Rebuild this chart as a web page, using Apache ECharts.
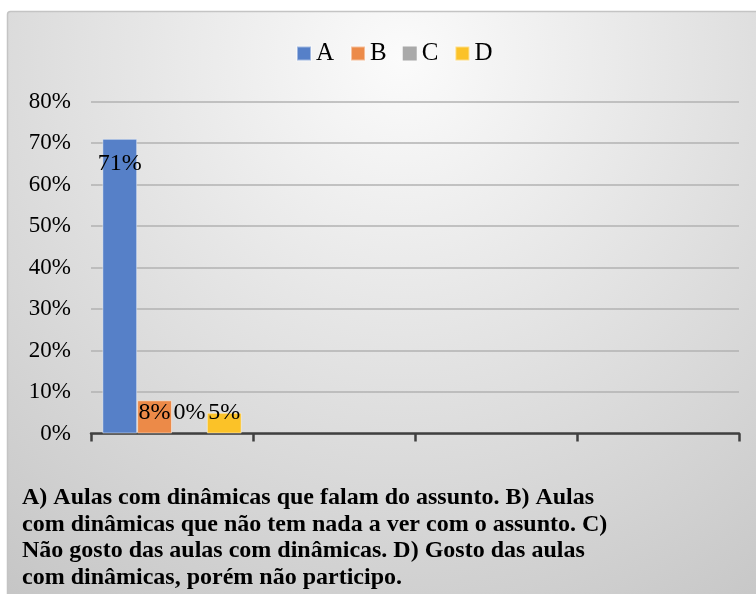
<!DOCTYPE html>
<html>
<head>
<meta charset="utf-8">
<script src="https://cdn.jsdelivr.net/npm/echarts@6/dist/echarts.min.js"></script>
<style>html,body{margin:0;padding:0;background:#fff;}#chart{width:756px;height:594px;}</style>
</head>
<body>
<div id="chart"></div>
<script>
var categories = ['', '', '', ''];
var seriesNames = ['A', 'B', 'C', 'D'];
var valuesA = [71, null, null, null];
var valuesB = [8, null, null, null];
var valuesC = [0, null, null, null];
var valuesD = [5, null, null, null];
var yTicks = [0, 10, 20, 30, 40, 50, 60, 70, 80];
var noteLines = [
  'A) Aulas com dinâmicas que falam do assunto. B) Aulas',
  'com dinâmicas que não tem nada a ver com o assunto. C)',
  'Não gosto das aulas com dinâmicas. D) Gosto das aulas',
  'com dinâmicas, porém não participo.'
];
var colors = ['#5680c8', '#ec8a48', '#a9a9a9', '#fbc228'];
var serif = '"Liberation Serif", "Times New Roman", serif';

var chart = echarts.init(document.getElementById('chart'), null, {renderer: 'canvas'});

function mkSeries(name, data, idx, labelPos, dist) {
  return {
    name: name, type: 'bar', data: data,
    barGap: '0%', barCategoryGap: '14%',
    itemStyle: {color: colors[idx], borderColor: 'rgba(255,255,255,0.45)', borderWidth: idx === 2 ? 0 : 1},
    label: {show: true, position: labelPos, distance: dist, formatter: '{c}%',
      fontFamily: serif, fontSize: 24, color: '#000'},
    emphasis: {disabled: true}
  };
}

var graphics = [{
  type: 'rect', z: -10, silent: true,
  shape: {x: 7.5, y: 11.5, width: 760, height: 600, r: 3},
  style: {
    fill: {type: 'radial', x: 0.52, y: 0.08, r: 1.1,
      colorStops: [{offset: 0, color: '#fbfbfb'}, {offset: 1, color: '#c6c6c6'}]},
    stroke: '#c4c4c4', lineWidth: 1.5
  }
}];
noteLines.forEach(function (t, i) {
  graphics.push({
    type: 'text', left: 22, top: 486 + i * 26.5, silent: true,
    style: {text: t, font: 'bold 24px ' + serif, fill: '#000'}
  });
});

chart.setOption({
  animation: false,
  color: colors,
  graphic: graphics,
  legend: {
    data: seriesNames, left: 291, top: 36, icon: 'rect',
    itemWidth: 14, itemHeight: 14, itemGap: 16,
    textStyle: {fontFamily: serif, fontSize: 25, color: '#000'}
  },
  grid: {left: 91, right: 17, top: 101.5, bottom: 160.5, containLabel: false},
  xAxis: {
    type: 'category', data: categories,
    axisLine: {lineStyle: {color: '#404040', width: 2.5}},
    axisTick: {show: true, length: 8, lineStyle: {color: '#404040', width: 2.5}},
    axisLabel: {show: false}
  },
  yAxis: {
    type: 'value', min: yTicks[0], max: yTicks[yTicks.length - 1], interval: 10,
    axisLine: {show: false}, axisTick: {show: false},
    splitLine: {lineStyle: {color: '#b2b2b2', width: 1.5}},
    axisLabel: {formatter: '{value}%', margin: 20, fontFamily: serif, fontSize: 23, color: '#000'}
  },
  series: [
    mkSeries(seriesNames[0], valuesA, 0, 'insideTop', 13),
    mkSeries(seriesNames[1], valuesB, 1, 'insideBottom', 9),
    mkSeries(seriesNames[2], valuesC, 2, 'insideBottom', 9),
    mkSeries(seriesNames[3], valuesD, 3, 'insideBottom', 9)
  ]
});
</script>
</body>
</html>
